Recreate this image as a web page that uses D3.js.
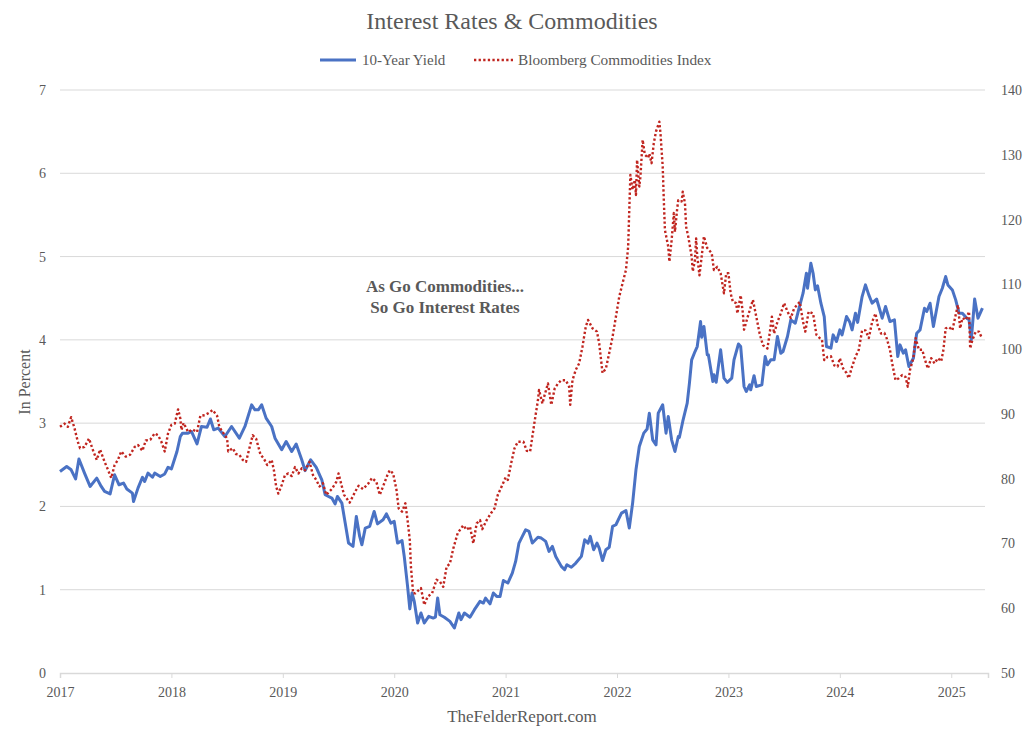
<!DOCTYPE html>
<html>
<head>
<meta charset="utf-8">
<script src="https://cdn.jsdelivr.net/npm/d3@7"></script>
<style>
  html, body { margin: 0; padding: 0; background: #ffffff; }
  svg { display: block; }
  text { font-family: "Liberation Serif", "DejaVu Serif", serif; fill: #595959; }
</style>
</head>
<body>
<svg id="chart" width="1024" height="739"></svg>
<script>
// ---------- DATA ----------
const yieldTimes = [2017.00,2017.06,2017.10,2017.14,2017.17,2017.22,2017.27,2017.33,2017.37,2017.40,2017.45,2017.49,2017.53,2017.57,2017.60,2017.65,2017.66,2017.70,2017.74,2017.76,2017.79,2017.83,2017.85,2017.90,2017.94,2017.97,
2018.00,2018.05,2018.08,2018.10,2018.15,2018.18,2018.23,2018.27,2018.32,2018.35,2018.38,2018.42,2018.48,2018.54,2018.61,2018.66,2018.72,2018.75,2018.78,2018.81,2018.85,2018.90,2018.93,2018.99,
2019.03,2019.08,2019.12,2019.17,2019.20,2019.25,2019.30,2019.35,2019.38,2019.44,2019.47,2019.49,2019.53,2019.56,2019.59,2019.63,2019.66,2019.69,2019.71,2019.74,2019.78,2019.82,2019.85,2019.90,2019.93,2019.97,
2020.00,2020.03,2020.07,2020.09,2020.12,2020.14,2020.16,2020.18,2020.21,2020.24,2020.27,2020.31,2020.35,2020.37,2020.39,2020.41,2020.45,2020.50,2020.54,2020.58,2020.60,2020.63,2020.68,2020.72,2020.77,2020.80,2020.82,2020.86,2020.89,2020.92,2020.95,2020.98,
2021.02,2021.06,2021.09,2021.12,2021.15,2021.18,2021.21,2021.24,2021.29,2021.32,2021.36,2021.39,2021.42,2021.45,2021.50,2021.53,2021.55,2021.59,2021.63,2021.68,2021.71,2021.74,2021.76,2021.79,2021.82,2021.84,2021.87,2021.90,2021.93,2021.96,2021.99,
2022.04,2022.08,2022.11,2022.14,2022.17,2022.20,2022.24,2022.27,2022.29,2022.32,2022.35,2022.37,2022.41,2022.44,2022.46,2022.49,2022.52,2022.55,2022.56,2022.59,2022.63,2022.65,2022.67,2022.70,2022.72,2022.75,2022.76,2022.78,2022.81,2022.82,2022.86,2022.87,2022.89,2022.93,2022.96,2022.99,
2023.03,2023.05,2023.09,2023.11,2023.14,2023.16,2023.19,2023.20,2023.23,2023.25,2023.30,2023.33,2023.35,2023.38,2023.41,2023.44,2023.47,2023.49,2023.53,2023.56,2023.60,2023.63,2023.67,2023.70,2023.71,2023.74,2023.76,2023.78,2023.80,2023.83,2023.86,2023.88,2023.92,2023.94,2023.97,
2024.00,2024.02,2024.06,2024.09,2024.11,2024.14,2024.16,2024.20,2024.23,2024.26,2024.29,2024.33,2024.35,2024.38,2024.41,2024.45,2024.49,2024.52,2024.54,2024.57,2024.59,2024.62,2024.66,2024.69,2024.72,2024.76,2024.78,2024.81,2024.84,2024.89,2024.92,2024.95,2024.97,
2025.01,2025.04,2025.07,2025.10,2025.14,2025.16,2025.18,2025.21,2025.24,2025.28];
const yieldValues = [2.42,2.48,2.44,2.33,2.57,2.40,2.24,2.34,2.24,2.18,2.15,2.38,2.26,2.28,2.21,2.16,2.06,2.22,2.35,2.30,2.40,2.35,2.40,2.36,2.39,2.47,
2.45,2.66,2.84,2.88,2.88,2.90,2.75,2.96,2.95,3.05,2.92,2.94,2.84,2.96,2.82,2.96,3.22,3.16,3.16,3.22,3.06,2.96,2.82,2.68,
2.78,2.66,2.75,2.56,2.43,2.56,2.47,2.32,2.14,2.10,2.03,2.12,2.04,1.80,1.56,1.52,1.88,1.64,1.54,1.74,1.76,1.94,1.79,1.84,1.91,1.80,
1.82,1.56,1.59,1.40,1.04,0.77,0.96,0.86,0.60,0.72,0.60,0.68,0.66,0.67,0.90,0.70,0.67,0.62,0.54,0.72,0.64,0.72,0.67,0.76,0.86,0.84,0.90,0.83,0.96,0.92,0.92,1.11,
1.08,1.20,1.34,1.56,1.64,1.72,1.70,1.56,1.63,1.62,1.58,1.46,1.52,1.40,1.28,1.24,1.30,1.27,1.32,1.40,1.60,1.56,1.64,1.48,1.56,1.50,1.35,1.48,1.51,1.76,1.78,
1.92,1.95,1.74,2.04,2.44,2.72,2.88,2.93,3.12,2.80,2.74,3.12,3.22,2.88,3.08,2.80,2.66,2.84,2.83,3.02,3.24,3.48,3.76,3.86,3.92,4.22,4.03,4.16,3.82,3.82,3.50,3.58,3.49,3.88,3.54,3.49,
3.54,3.76,3.95,3.92,3.44,3.38,3.46,3.40,3.57,3.44,3.46,3.80,3.70,3.76,3.76,4.04,3.84,3.86,4.04,4.24,4.20,4.36,4.56,4.80,4.62,4.92,4.80,4.60,4.65,4.44,4.28,3.92,3.90,4.06,3.98,
4.12,4.06,4.28,4.21,4.12,4.32,4.21,4.52,4.66,4.54,4.44,4.49,4.40,4.26,4.40,4.22,4.24,3.80,3.94,3.84,3.88,3.68,3.78,4.08,4.12,4.38,4.34,4.44,4.16,4.52,4.62,4.76,4.66,
4.60,4.48,4.32,4.32,4.26,4.24,4.00,4.49,4.26,4.38];

const commTimes = [2017.00,2017.04,2017.07,2017.10,2017.13,2017.16,2017.18,2017.22,2017.26,2017.30,2017.33,2017.36,2017.40,2017.43,2017.46,2017.49,2017.52,2017.55,2017.59,2017.63,2017.67,2017.70,2017.74,2017.77,2017.81,2017.85,2017.88,2017.91,2017.94,2017.97,
2018.00,2018.03,2018.06,2018.08,2018.09,2018.11,2018.15,2018.19,2018.23,2018.26,2018.30,2018.34,2018.37,2018.41,2018.43,2018.46,2018.50,2018.51,2018.55,2018.58,2018.61,2018.64,2018.67,2018.70,2018.73,2018.76,2018.80,2018.83,2018.86,2018.90,2018.92,2018.94,2018.96,2018.99,
2019.02,2019.05,2019.08,2019.11,2019.14,2019.17,2019.20,2019.24,2019.27,2019.30,2019.33,2019.36,2019.39,2019.44,2019.48,2019.50,2019.53,2019.55,2019.60,2019.65,2019.68,2019.72,2019.77,2019.80,2019.84,2019.87,2019.90,2019.94,2019.96,2019.99,
2020.02,2020.04,2020.07,2020.10,2020.12,2020.14,2020.15,2020.17,2020.19,2020.22,2020.24,2020.27,2020.30,2020.34,2020.38,2020.41,2020.44,2020.47,2020.50,2020.53,2020.57,2020.62,2020.65,2020.68,2020.71,2020.74,2020.77,2020.79,2020.83,2020.87,2020.90,2020.93,2020.97,
2021.00,2021.02,2021.05,2021.08,2021.11,2021.16,2021.19,2021.22,2021.24,2021.26,2021.29,2021.30,2021.33,2021.35,2021.38,2021.41,2021.44,2021.47,2021.50,2021.54,2021.57,2021.58,2021.60,2021.63,2021.66,2021.69,2021.72,2021.74,2021.78,2021.82,2021.84,2021.87,2021.90,2021.93,2021.96,2021.99,
2022.02,2022.05,2022.08,2022.10,2022.11,2022.12,2022.14,2022.16,2022.17,2022.18,2022.20,2022.21,2022.23,2022.25,2022.28,2022.29,2022.31,2022.33,2022.35,2022.38,2022.39,2022.41,2022.42,2022.43,2022.46,2022.47,2022.49,2022.51,2022.52,2022.54,2022.55,2022.58,2022.59,2022.61,2022.62,2022.64,2022.67,2022.68,2022.70,2022.71,2022.72,2022.74,2022.76,2022.78,2022.81,2022.85,2022.87,2022.90,2022.93,2022.96,2022.98,
2023.00,2023.02,2023.04,2023.07,2023.08,2023.11,2023.13,2023.14,2023.17,2023.20,2023.22,2023.25,2023.28,2023.31,2023.35,2023.37,2023.39,2023.41,2023.44,2023.47,2023.50,2023.53,2023.56,2023.59,2023.64,2023.67,2023.69,2023.72,2023.76,2023.79,2023.82,2023.84,2023.86,2023.89,2023.92,2023.95,2023.98,
2024.00,2024.03,2024.06,2024.08,2024.11,2024.14,2024.17,2024.20,2024.23,2024.26,2024.29,2024.32,2024.34,2024.37,2024.40,2024.42,2024.45,2024.47,2024.50,2024.53,2024.56,2024.59,2024.61,2024.63,2024.66,2024.68,2024.71,2024.74,2024.76,2024.79,2024.82,2024.85,2024.88,2024.91,2024.93,2024.95,2024.98,
2025.01,2025.04,2025.06,2025.08,2025.10,2025.13,2025.16,2025.17,2025.19,2025.22,2025.25,2025.27];
const commValues = [88.0,88.5,88.0,89.5,87.8,85.7,84.7,84.9,86.2,84.2,82.9,84.5,82.6,81.4,80.1,82.1,82.9,84.2,83.4,83.7,84.9,85.2,84.3,85.9,86.0,87.0,86.7,85.7,84.2,87.0,
88.3,88.5,90.7,89.3,87.5,88.6,87.2,87.6,87.2,89.7,89.8,90.2,90.6,89.7,88.0,87.2,86.2,84.2,84.7,83.8,83.7,82.9,82.6,84.7,86.7,86.2,83.7,83.1,82.1,82.9,81.3,78.8,77.7,79.0,
80.6,80.8,80.4,81.8,80.8,81.6,81.3,82.6,80.6,79.8,78.8,79.3,77.5,78.4,79.5,80.8,78.8,77.5,76.3,78.0,78.9,78.4,79.3,80.1,79.5,77.5,78.8,80.6,81.3,80.8,
78.3,75.4,74.9,76.2,73.6,70.5,66.4,62.3,62.3,62.8,63.1,60.5,61.8,62.3,64.4,64.1,63.3,66.4,66.9,69.2,71.6,72.8,72.1,72.6,70.0,73.1,73.6,72.2,73.6,74.7,75.4,77.5,79.0,
80.2,79.8,82.4,84.7,85.7,85.7,84.3,84.2,86.5,88.8,92.1,93.7,91.6,92.9,94.7,91.4,93.9,94.7,95.2,95.2,94.2,91.4,95.2,96.8,97.8,100.4,103.5,104.5,103.2,102.7,100.9,96.3,97.0,99.4,101.9,105.0,
108.1,110.2,112.2,115.8,121.5,126.9,124.6,126.1,123.8,129.2,125.1,126.6,132.3,130.0,129.5,130.2,128.7,131.8,133.6,135.1,133.3,128.2,123.0,118.4,115.8,113.5,116.8,121.0,118.1,121.7,123.0,122.8,124.3,122.5,118.9,117.3,114.3,112.0,113.8,117.1,114.3,111.4,114.3,117.4,115.6,114.8,112.2,112.7,111.7,108.6,111.7,
111.7,108.6,107.3,107.1,105.5,108.3,105.5,103.0,104.8,106.5,107.6,105.0,102.4,100.6,100.1,102.4,105.0,102.4,104.2,105.5,107.1,105.8,104.8,106.3,107.3,104.2,102.7,105.8,105.5,102.2,101.7,101.4,98.3,98.8,98.9,97.5,97.3,
98.6,97.0,96.3,95.5,97.3,98.8,99.9,102.9,102.9,101.7,104.2,105.5,103.7,102.4,102.5,101.7,99.9,97.8,95.2,95.5,96.0,95.7,94.2,96.8,98.6,101.7,99.9,99.9,98.6,97.0,98.6,97.8,98.6,98.1,99.9,103.2,103.4,
102.9,105.3,106.8,103.2,104.8,104.5,105.8,100.1,101.4,102.7,102.7,101.9];

const yearTicks = [2017, 2018, 2019, 2020, 2021, 2022, 2023, 2024, 2025];
const leftTicks = [0, 1, 2, 3, 4, 5, 6, 7];
const rightTicks = [50, 60, 70, 80, 90, 100, 110, 120, 130, 140];

const yieldSeries = yieldTimes.map((t, i) => ({ t, v: yieldValues[i] }));
const commSeries = commTimes.map((t, i) => ({ t, v: commValues[i] }));

// ---------- LAYOUT ----------
const svg = d3.select("#chart");
const plot = { left: 60, right: 988, top: 90, bottom: 673 };
const textColor = "#595959";
const gridColor = "#d9d9d9";
const fontFam = '"Liberation Serif", serif';

const x = d3.scaleLinear().domain([2017, 2025.33]).range([plot.left, plot.right]);
const yL = d3.scaleLinear().domain([0, 7]).range([plot.bottom, plot.top]);
const yR = d3.scaleLinear().domain([50, 140]).range([plot.bottom, plot.top]);

// Gridlines (left axis)
svg.append("g")
  .selectAll("line")
  .data(leftTicks.filter(d => d > 0))
  .join("line")
  .attr("x1", plot.left).attr("x2", 985)
  .attr("y1", d => yL(d)).attr("y2", d => yL(d))
  .attr("stroke", gridColor).attr("stroke-width", 1);

// X axis
const xAxis = d3.axisBottom(x).tickValues(yearTicks).tickFormat(d3.format("d")).tickSize(5).tickPadding(9);
const gx = svg.append("g").attr("transform", `translate(0,${plot.bottom})`).call(xAxis);
gx.select(".domain").attr("stroke", gridColor).attr("stroke-width", 1.5);
gx.selectAll(".tick line").attr("stroke", gridColor);
gx.selectAll(".tick text").attr("fill", textColor).style("font-size", "14px").style("font-family", fontFam);

// Left axis labels
const gl = svg.append("g").attr("transform", `translate(${plot.left},0)`)
  .call(d3.axisLeft(yL).tickValues(leftTicks).tickFormat(d3.format("d")).tickSize(0).tickPadding(14));
gl.select(".domain").remove();
gl.selectAll(".tick text").attr("fill", textColor).style("font-size", "14px").style("font-family", fontFam);

// Right axis labels
const gr = svg.append("g").attr("transform", `translate(${plot.right},0)`)
  .call(d3.axisRight(yR).tickValues(rightTicks).tickFormat(d3.format("d")).tickSize(0).tickPadding(13));
gr.select(".domain").remove();
gr.selectAll(".tick text").attr("fill", textColor).style("font-size", "14px").style("font-family", fontFam);

// Lines
const lineL = d3.line().x(d => x(d.t)).y(d => yL(d.v)).curve(d3.curveLinear);
const lineR = d3.line().x(d => x(d.t)).y(d => yR(d.v)).curve(d3.curveLinear);

svg.append("path").datum(yieldSeries)
  .attr("d", lineL).attr("fill", "none")
  .attr("stroke", "#4A72C4").attr("stroke-width", 3)
  .attr("stroke-linejoin", "round");

svg.append("path").datum(commSeries)
  .attr("d", lineR).attr("fill", "none")
  .attr("stroke", "#C0251F").attr("stroke-width", 2.4)
  .attr("stroke-dasharray", "2.3 2.3")
  .attr("stroke-linejoin", "round");

// Title
svg.append("text").attr("x", 512).attr("y", 29).attr("text-anchor", "middle")
  .style("font-size", "24px").text("Interest Rates & Commodities");

// Legend
svg.append("line").attr("x1", 320).attr("x2", 356).attr("y1", 60).attr("y2", 60)
  .attr("stroke", "#4A72C4").attr("stroke-width", 3);
svg.append("text").attr("x", 362).attr("y", 65).style("font-size", "15px").text("10-Year Yield");
svg.append("line").attr("x1", 474).attr("x2", 513).attr("y1", 60).attr("y2", 60)
  .attr("stroke", "#C0251F").attr("stroke-width", 2.4).attr("stroke-dasharray", "2.3 2.3");
svg.append("text").attr("x", 518).attr("y", 65).style("font-size", "15.3px").text("Bloomberg Commodities Index");

// Y axis title
svg.append("text").attr("transform", "translate(30,382) rotate(-90)")
  .attr("text-anchor", "middle").style("font-size", "16px").text("In Percent");

// Annotation
const ann = svg.append("text").attr("text-anchor", "middle")
  .style("font-size", "17px").style("font-weight", "bold");
ann.append("tspan").attr("x", 445).attr("y", 292).text("As Go Commodities...");
ann.append("tspan").attr("x", 445).attr("y", 313).text("So Go Interest Rates");

// Source
svg.append("text").attr("x", 522).attr("y", 722).attr("text-anchor", "middle")
  .style("font-size", "17px").text("TheFelderReport.com");
</script>
</body>
</html>
